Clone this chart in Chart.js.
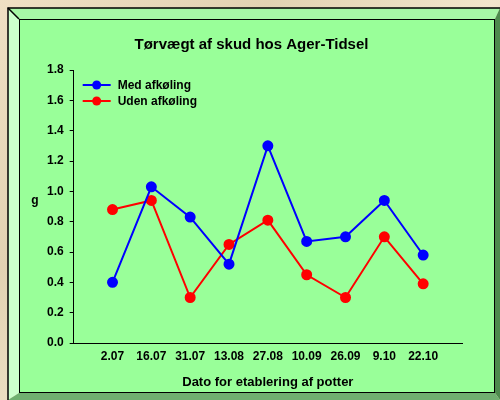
<!DOCTYPE html>
<html>
<head>
<meta charset="utf-8">
<script src="https://cdn.jsdelivr.net/npm/chart.js@4/dist/chart.umd.min.js"></script>
<style>
html,body{margin:0;padding:0;}
body{width:500px;height:400px;background:linear-gradient(135deg,#efe0c4 0%,#e2d2b2 30%,#f2e6cc 55%,#d9c9aa 80%,#eadcc0 100%);}
canvas{display:block;}
</style>
</head>
<body>
<canvas id="c" width="500" height="400"></canvas>
<script>
const categories = ['2.07','16.07','31.07','13.08','27.08','10.09','26.09','9.10','22.10'];
const medAfkoling = [0.40,1.03,0.83,0.52,1.30,0.67,0.70,0.94,0.58];
const udenAfkoling = [0.88,0.94,0.30,0.65,0.81,0.45,0.30,0.70,0.39];
const yTicks = [0.0,0.2,0.4,0.6,0.8,1.0,1.2,1.4,1.6,1.8];

const FONT = "'Liberation Sans', Arial, sans-serif";

const framePlugin = {
  id: 'frame',
  beforeDraw(chart){
    const ctx = chart.ctx;
    ctx.save();
    const L=8, T=8, R=500, B=400, il=19, it=19, ir=495, ib=393;
    ctx.fillStyle = '#a6f7a6';
    ctx.beginPath(); ctx.moveTo(L,T); ctx.lineTo(R,T); ctx.lineTo(ir,it); ctx.lineTo(il,it); ctx.closePath(); ctx.fill();
    ctx.fillStyle = '#ccffcc';
    ctx.beginPath(); ctx.moveTo(L,T); ctx.lineTo(il,it); ctx.lineTo(il,ib); ctx.lineTo(L,B); ctx.closePath(); ctx.fill();
    ctx.fillStyle = '#4d8a4d';
    ctx.beginPath(); ctx.moveTo(R,T); ctx.lineTo(R,B); ctx.lineTo(ir,ib); ctx.lineTo(ir,it); ctx.closePath(); ctx.fill();
    ctx.fillStyle = '#70b070';
    ctx.beginPath(); ctx.moveTo(L,B); ctx.lineTo(il,ib); ctx.lineTo(ir,ib); ctx.lineTo(R,B); ctx.closePath(); ctx.fill();
    ctx.fillStyle = '#99FF99';
    ctx.fillRect(il,it,ir-il,ib-it);
    ctx.strokeStyle = '#000'; ctx.lineWidth = 1.5;
    ctx.beginPath(); ctx.moveTo(L,B); ctx.lineTo(L,T); ctx.lineTo(R,T); ctx.stroke();
    ctx.beginPath(); ctx.moveTo(L,T); ctx.lineTo(il,it); ctx.stroke();
    ctx.lineWidth = 1;
    ctx.strokeRect(il+0.5,it+0.5,ir-il-1,ib-it-1);
    ctx.restore();
  },
  afterDraw(chart){
    const ctx = chart.ctx;
    const area = chart.chartArea;
    ctx.save();
    ctx.font = "bold 12px " + FONT;
    ctx.fillStyle = '#000';
    ctx.textAlign = 'center'; ctx.textBaseline = 'middle';
    ctx.fillText('g', 35, 201);
    chart.data.datasets.forEach((d,i)=>{
      const y = area.top + 15 + i*16;
      const x0 = area.left + 9;
      ctx.strokeStyle = d.borderColor; ctx.lineWidth = 2;
      ctx.beginPath(); ctx.moveTo(x0,y); ctx.lineTo(x0+28,y); ctx.stroke();
      ctx.fillStyle = d.borderColor;
      ctx.beginPath(); ctx.arc(x0+14,y,4.5,0,Math.PI*2); ctx.fill();
      ctx.fillStyle = '#000'; ctx.textAlign='left';
      ctx.fillText(d.label, x0+35, y+0.5);
    });
    ctx.restore();
  }
};

new Chart(document.getElementById('c'), {
  type: 'line',
  data: {
    datasets: [
      {label:'Med afkøling', data: medAfkoling.map((v,i)=>({x:i+1,y:v})), borderColor:'#0000FF', backgroundColor:'#0000FF', pointBackgroundColor:'#0000FF', pointBorderColor:'#0000FF', borderWidth:2, pointRadius:4.5, tension:0},
      {label:'Uden afkøling', data: udenAfkoling.map((v,i)=>({x:i+1,y:v})), borderColor:'#FF0000', backgroundColor:'#FF0000', pointBackgroundColor:'#FF0000', pointBorderColor:'#FF0000', borderWidth:2, pointRadius:4.5, tension:0}
    ]
  },
  options: {
    responsive:false, animation:false,
    layout:{padding:{left:41,right:38,top:36,bottom:10}},
    plugins:{
      title:{display:true, text:'Tørvægt af skud hos Ager-Tidsel', color:'#000', font:{family:FONT, size:15, weight:'bold'}, padding:{top:0,bottom:16}},
      legend:{display:false},
      tooltip:{enabled:false}
    },
    scales:{
      x:{type:'linear', min:0, max:10,
        afterBuildTicks(axis){ axis.ticks = categories.map((c,i)=>({value:i+1})); },
        ticks:{callback:(v)=>categories[v-1] ?? '', color:'#000', font:{family:FONT,size:12,weight:'bold'}, padding:6, maxRotation:0, autoSkip:false},
        grid:{drawOnChartArea:false, drawTicks:false},
        border:{color:'#000', width:1},
        title:{display:true, text:'Dato for etablering af potter', color:'#000', font:{family:FONT,size:13,weight:'bold'}, padding:{top:5,bottom:0}}
      },
      y:{min:0, max:1.8,
        afterBuildTicks(axis){ axis.ticks = yTicks.map(v=>({value:v})); },
        ticks:{callback:(v)=>v.toFixed(1), color:'#000', font:{family:FONT,size:12,weight:'bold'}, padding:6},
        grid:{drawOnChartArea:false, drawTicks:true, tickLength:4, color:'#000'},
        border:{color:'#000', width:1}
      }
    }
  },
  plugins:[framePlugin]
});
</script>
</body>
</html>
